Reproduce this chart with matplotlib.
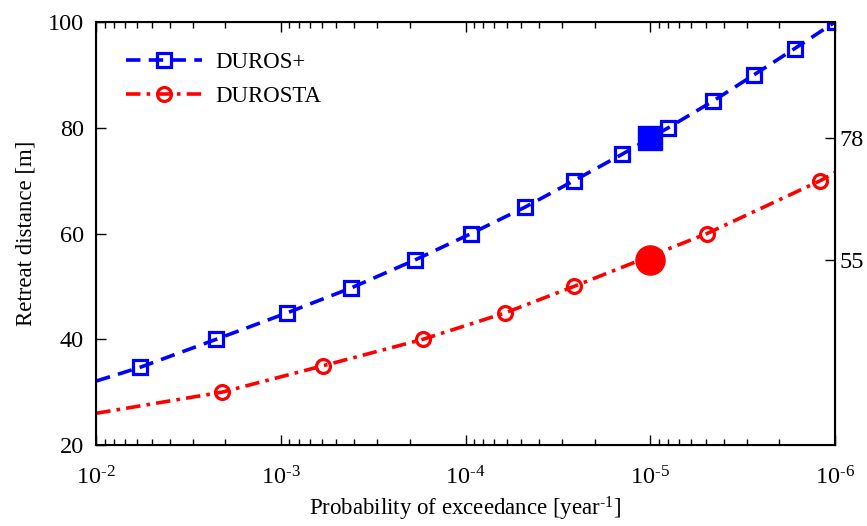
import numpy as np
import matplotlib
matplotlib.use("Agg")
import matplotlib.pyplot as plt
from matplotlib.ticker import LogLocator, NullFormatter, FixedLocator, FixedFormatter

plt.rcParams['font.family'] = ['Liberation Serif', 'DejaVu Serif']
plt.rcParams['mathtext.fontset'] = 'custom'
plt.rcParams['mathtext.rm'] = 'Liberation Serif'
plt.rcParams['mathtext.it'] = 'Liberation Serif:italic'
plt.rcParams['mathtext.bf'] = 'Liberation Serif:bold'

# --- Données ---
# DUROS+ : premier point = début de la ligne (sans marqueur)
p_duros = [1e-2, 5.78e-3, 2.24e-3, 9.25e-4, 4.17e-4, 1.88e-4, 9.33e-5,
           4.76e-5, 2.59e-5, 1.42e-5, 8.0e-6, 4.6e-6, 2.75e-6, 1.65e-6, 1e-6]
r_duros = [32.1, 34.7, 40, 45, 49.7, 55, 60, 65, 70, 75, 80, 85, 90, 95, 100]

# DUROSTA : premier et dernier point = extrémités de la ligne
p_durosta = [1e-2, 2.08e-3, 5.9e-4, 1.7e-4, 6.1e-5, 2.59e-5, 4.93e-6, 1.2e-6, 1e-6]
r_durosta = [26.0, 30, 35, 40, 45, 50, 60, 70, 71.5]

# points de conception (1e-5)
p_design = 1e-5
r_design_duros = 78
r_design_durosta = 55

x_ticks = [1e-2, 1e-3, 1e-4, 1e-5, 1e-6]
x_labels = [r'$10^{\text{-2}}$', r'$10^{\text{-3}}$', r'$10^{\text{-4}}$',
            r'$10^{\text{-5}}$', r'$10^{\text{-6}}$']

fig = plt.figure(figsize=(8.67, 5.26), dpi=100)
ax = fig.add_axes([0.111, 0.154, 0.852, 0.804])

ax.plot(p_duros, r_duros, color='blue', linestyle=(0, (4, 2.3)), linewidth=2.6,
        marker='s', markersize=10, markerfacecolor='none', markeredgewidth=2.3,
        markevery=list(range(1, len(p_duros))), label='DUROS+')
ax.plot(p_durosta, r_durosta, color='red', linestyle=(0, (4, 1.7, 1, 1.7)), linewidth=2.6,
        marker='o', markersize=10, markerfacecolor='none', markeredgewidth=2.3,
        markevery=list(range(1, len(p_durosta) - 1)), label='DUROSTA')

ax.plot(p_design, r_design_duros, 's', color='blue', markersize=17, zorder=5)
ax.plot(p_design, r_design_durosta, 'o', color='red', markersize=21, zorder=5)

ax.set_xscale('log')
ax.set_xlim(1e-2, 1e-6)
ax.set_ylim(20, 100)
ax.set_yticks([20, 40, 60, 80, 100])
ax.xaxis.set_major_locator(FixedLocator(x_ticks))
ax.xaxis.set_major_formatter(FixedFormatter(x_labels))
ax.xaxis.set_minor_locator(LogLocator(base=10, subs=np.arange(2, 10), numticks=10))
ax.xaxis.set_minor_formatter(NullFormatter())

ax.tick_params(which='both', direction='in', top=True, right=True, labelsize=17.5, width=1)
ax.tick_params(which='major', length=7)
ax.tick_params(which='minor', length=4)
ax.tick_params(axis='x', pad=15)
ax.tick_params(axis='y', pad=9)
for s in ax.spines.values():
    s.set_linewidth(1.5)

ax.set_xlabel('Probability of exceedance [year$^{\\text{-1}}$]', fontsize=16.5, labelpad=4)
ax.set_ylabel('Retreat distance [m]', fontsize=16.5, labelpad=8)

# axe de droite avec les valeurs de conception
ax2 = ax.twinx()
ax2.set_ylim(20, 100)
ax2.set_yticks([r_design_durosta, r_design_duros])
ax2.tick_params(direction='in', length=7, labelsize=17.5, width=1, pad=3)

leg = ax.legend(loc='upper left', frameon=False, fontsize=16.5, handlelength=3.3,
                borderaxespad=0.5, labelspacing=0.55, handletextpad=0.6,
                borderpad=0.8)

fig.savefig('out.png', dpi=100)
